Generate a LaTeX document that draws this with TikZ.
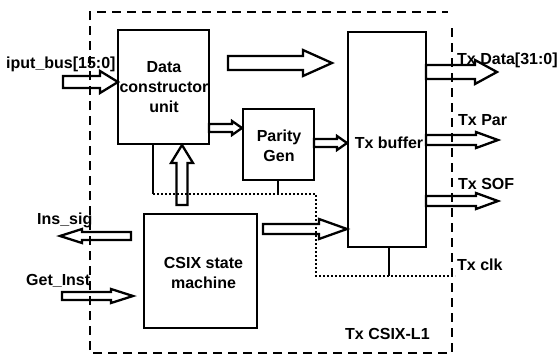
\documentclass[tikz,border=0pt]{standalone}
\usepackage{fontspec}
\setmainfont{Liberation Sans}
\newcommand\rarr[6]{\draw[barr] (#1,#3-#4) -- (#2-#6,#3-#4) -- (#2-#6,#3-#5) -- (#2,#3) -- (#2-#6,#3+#5) -- (#2-#6,#3+#4) -- (#1,#3+#4) -- cycle;}
\newcommand\larr[6]{\draw[barr] (#1,#3-#4) -- (#2+#6,#3-#4) -- (#2+#6,#3-#5) -- (#2,#3) -- (#2+#6,#3+#5) -- (#2+#6,#3+#4) -- (#1,#3+#4) -- cycle;}
\newcommand\uarr[6]{\draw[barr] (#3-#4,#1) -- (#3-#4,#2+#6) -- (#3-#5,#2+#6) -- (#3,#2) -- (#3+#5,#2+#6) -- (#3+#4,#2+#6) -- (#3+#4,#1) -- cycle;}
\begin{document}
\begin{tikzpicture}[x=1pt,y=-1pt,
  blk/.style={draw,line width=2.8pt,fill=white},
  barr/.style={draw,line width=2.3pt,line join=miter},
  lbl/.style={font=\bfseries\fontsize{16}{20}\selectfont,inner sep=0pt},
  bound/.style={draw,line width=1.8pt,dash pattern=on 9pt off 6pt},
  dots/.style={draw,line width=1.8pt,dash pattern=on 1.6pt off 2.4pt}]
\useasboundingbox (0,0) rectangle (560,357);
% boxes
\draw[blk] (118,30) rectangle (209,144);
\node[lbl,align=center] (dcu) at (164,87) {Data\\constructor\\unit};
\draw[blk] (243,109) rectangle (314,180);
\node[lbl,align=center] (par) at (279,146) {Parity\\Gen};
\draw[blk] (348,32) rectangle (426,247);
\node[lbl] (txb) at (389,143) {Tx buffer};
\draw[blk] (144,214) rectangle (257,328);
\node[lbl,align=center] (csix) at (203.5,273) {CSIX state\\machine};
% clock lines
\draw[line width=1.8pt] (153,144) -- (153,194);
\draw[line width=1.8pt] (278,180) -- (278,194);
\draw[line width=1.8pt] (389,247) -- (389,276);
\draw[dots] (153,194) -- (316,194) -- (316,276) -- (455,276);
% block arrows
\rarr{63}{118}{82}{6}{11}{18}
\rarr{228}{332}{63}{7}{13}{29}
\rarr{209}{242}{128}{4}{7}{10}
\rarr{314}{347}{143}{4}{7}{10}
\rarr{263}{347}{229}{5}{10}{28}
\uarr{205}{145}{182}{5.5}{11}{18}
\larr{131}{60}{236}{4}{7}{22}
\rarr{62}{133}{296}{4}{7}{22}
\rarr{426}{497}{72}{7}{12}{22}
\rarr{426}{498}{140}{5}{8}{22}
\rarr{426}{498}{201}{5}{8}{22}
% boundary
\draw[bound] (90,350) -- (90,12) -- (448,12);
\draw[bound] (452,28) -- (452,353) -- (90,353);
% labels
\node[lbl,anchor=west] (ib) at (6,64) {iput\_bus[15:0]};
\node[lbl,anchor=west] (is) at (37,220) {Ins\_sig};
\node[lbl,anchor=west] (gi) at (26,281) {Get\_Inst};
\node[lbl,anchor=west] (td) at (457,60) {Tx Data[31:0]};
\node[lbl,anchor=west] (tp) at (458,120) {Tx Par};
\node[lbl,anchor=west] (ts) at (458,184) {Tx SOF};
\node[lbl,anchor=west] (tc) at (457,265) {Tx clk};
\node[lbl,anchor=west] (tl) at (345,334) {Tx CSIX-L1};
\end{tikzpicture}
\end{document}
